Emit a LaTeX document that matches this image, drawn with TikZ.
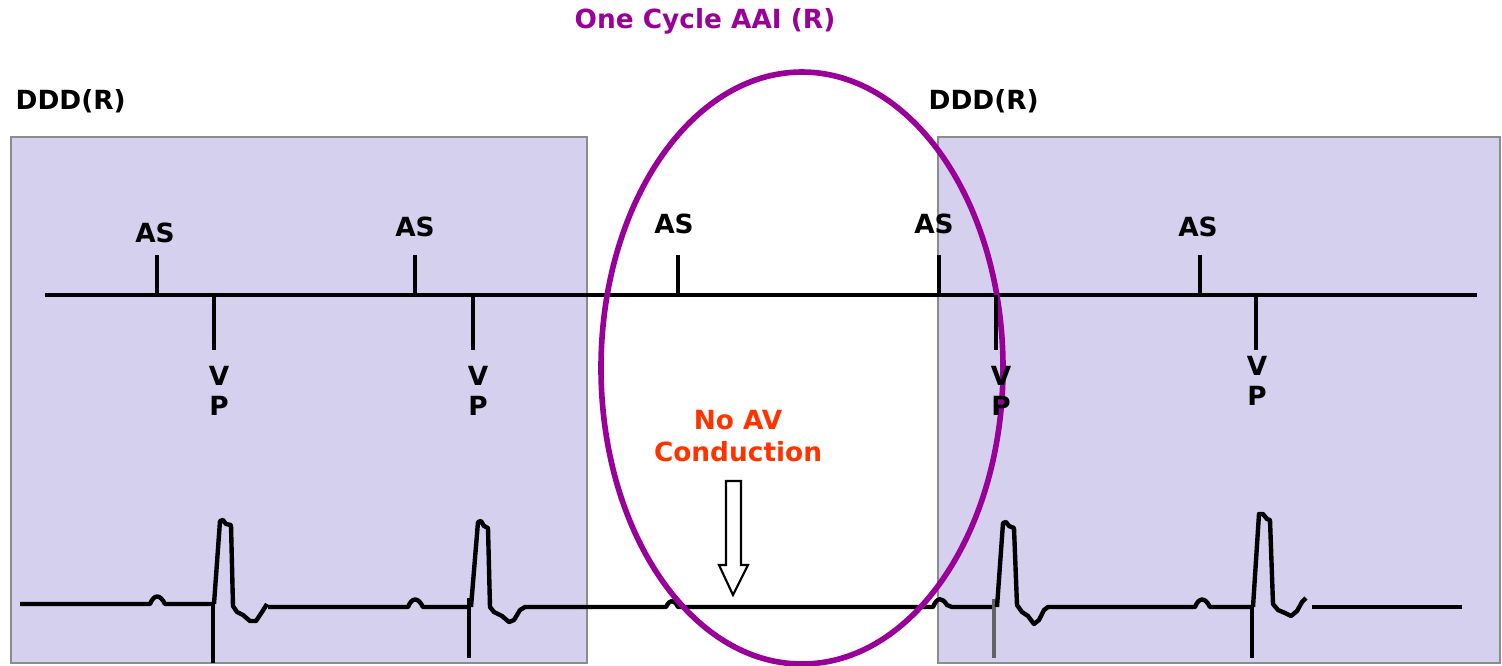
\documentclass[tikz,border=0pt]{standalone}
\usepackage{fontspec}
\setsansfont{DejaVu Sans}
\usepackage{xcolor}
\usepackage{tikz}
\usetikzlibrary{positioning}
\definecolor{ddbox}{RGB}{212,208,238}
\definecolor{ddedge}{RGB}{140,140,140}
\definecolor{aaicol}{RGB}{153,0,153}
\definecolor{noav}{RGB}{255,51,0}
\begin{document}
\begin{tikzpicture}[x=0.1mm, y=-0.1mm,
    every node/.style={font=\sffamily\bfseries\fontsize{7.5}{8.4}\selectfont, inner sep=0pt},
    modebox/.style={fill=ddbox, draw=ddedge, line width=0.6pt},
    trace/.style={line width=1.25pt, line join=round},
    tick/.style={line width=1.35pt},
    vplabel/.style={align=center}]
  \useasboundingbox (0,0) rectangle (1502,665);
  \draw[modebox] (11,137) rectangle (587,663);
  \draw[modebox] (938,137) rectangle (1500,663);
  \node[anchor=west] (ddd1) at (15,101) {DDD(R)};
  \node[anchor=west] (ddd2) at (928,101) {DDD(R)};
  \node[text=aaicol] (aai) at (705,21) {One Cycle AAI (R)};
  \coordinate (tstart) at (45,295);
  \coordinate (tend) at (1477,295);
  \draw[tick] (tstart) -- (tend);
  \draw[trace] (20,604) -- (150,604) .. controls (154,594) and (160,594) .. (165,604) -- (213,604);
  \draw[trace] (213,604) -- (213,663);
  \draw[trace] (214,604) -- (220,521) -- (223,520) -- (226,524) -- (231,525) -- (233,606)
    -- (237,612) -- (243,615) -- (250,621) -- (256,621) -- (262,612) -- (267,604);
  \draw[trace] (268,607) -- (408,607) .. controls (412,597) and (418,597) .. (423,607) -- (470,607);
  \draw[trace] (469,598) -- (469,658);
  \draw[trace] (471,607) -- (478,522) -- (481,521) -- (484,526) -- (488,528) -- (490,607)
    -- (494,612) -- (502,616) -- (509,622) -- (514,620) -- (520,610) -- (525,607)
    -- (666,607) .. controls (670,599) and (674,599) .. (678,607) -- (933,607)
    .. controls (937,597) and (942,597) .. (947,605) -- (952,607) -- (992,607);
  \draw[ddedge!70!black, line width=1pt] (994,599) -- (994,658);
  \draw[trace] (997,607) -- (1003,523) -- (1006,522) -- (1009,526) -- (1014,528) -- (1017,605)
    -- (1022,612) -- (1028,616) -- (1034,624) -- (1039,620) -- (1044,610) -- (1048,607)
    -- (1195,607) .. controls (1199,597) and (1205,597) .. (1210,607) -- (1252,607);
  \draw[trace] (1252,605) -- (1252,658);
  \draw[trace] (1253,607) -- (1259,514) -- (1263,514) -- (1267,519) -- (1270,520) -- (1273,604)
    -- (1278,610) -- (1285,613) -- (1291,616) -- (1297,611) -- (1302,602) -- (1306,598);
  \draw[trace] (1312,607) -- (1462,607);
  \draw[aaicol, line width=1.6pt] (802,368) ellipse [x radius=201, y radius=296];
  \foreach \x/\lx/\ly [count=\i] in {157/155/233, 415/415/227, 678/674/224, 939/934/224, 1200/1198/227} {
    \draw[tick] (\x,295) -- (\x,255);
    \node (as\i) at (\lx,\ly) {AS};
  }
  \foreach \x/\lx/\ly [count=\i] in {214/219/391, 473/478/391, 996/1001/391, 1256/1257/381} {
    \draw[tick] (\x,295) -- (\x,350);
    \node[vplabel] (vp\i) at (\lx,\ly) {V\\P};
  }
  \node[text=noav, align=center, font=\sffamily\bfseries\fontsize{7.5}{9}\selectfont]
    (noconduct) at (738,436) {No AV\\Conduction};
  \draw[fill=white, line width=0.6pt, line join=miter]
    (726,481) -- (741,481) -- (741,565) -- (748,565) -- (733,595) -- (719,565) -- (726,565) -- cycle;
\end{tikzpicture}
\end{document}
